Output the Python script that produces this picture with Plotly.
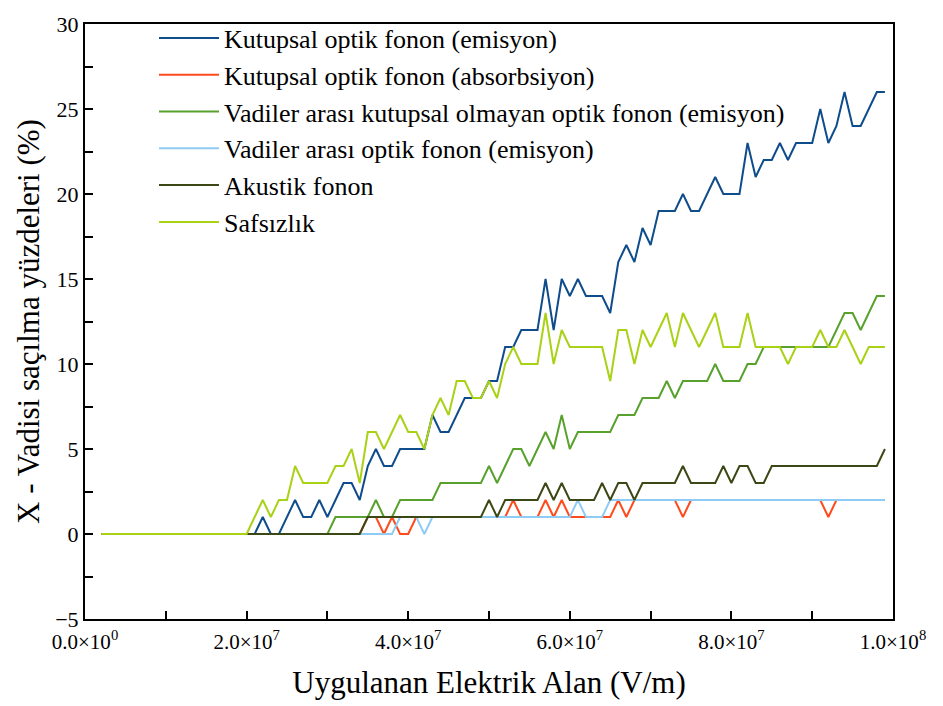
import plotly.graph_objects as go

# x grid in units of 1e6 V/m
x_mega = list(range(2, 100))
x_vals = [v * 1e6 for v in x_mega]

kutupsal_emisyon = [0]*20 + [
    1, 0, 0, 1, 2, 1, 1, 2, 1, 2,
    3, 3, 2, 4, 5, 4, 4, 5, 5, 5,
    5, 7, 6, 6, 7, 8, 8, 8, 9, 9,
    11, 11, 12, 12, 12, 15, 12, 15, 14, 15,
    14, 14, 14, 13, 16, 17, 16, 18, 17, 19,
    19, 19, 20, 19, 19, 20, 21, 20, 20, 20,
    23, 21, 22, 22, 23, 22, 23, 23, 23, 25,
    23, 24, 26, 24, 24, 25, 26, 26]

kutupsal_absorbsiyon = [0]*33 + [
    1, 1, 0, 1, 0, 0, 1, 1, 1, 1,
    1, 1, 1, 1, 1, 1, 1, 1, 2, 1,
    1, 1, 2, 1, 2, 1, 1, 1, 1, 1,
    1, 2, 1, 2, 2, 2, 2, 2, 2, 1,
    2, 2, 2, 2, 2, 2, 2, 2, 2, 2,
    2, 2, 2, 2, 2, 2, 2, 1, 2, 2,
    2, 2, 2, 2, 2]

vadiler_kutupsal_olmayan = [0]*29 + [
    1, 1, 1, 1, 1, 2, 1, 1, 2, 2,
    2, 2, 2, 3, 3, 3, 3, 3, 3, 4,
    3, 4, 5, 5, 4, 5, 6, 5, 7, 5,
    6, 6, 6, 6, 6, 7, 7, 7, 8, 8,
    8, 9, 8, 9, 9, 9, 9, 10, 9, 9,
    9, 10, 10, 11, 11, 11, 11, 11, 11, 11,
    11, 11, 12, 13, 13, 12, 13, 14, 14]

vadiler_optik = [0]*37 + [
    1, 1, 1, 0, 1, 1, 1, 1, 1, 1,
    1, 1, 1, 1, 1, 1, 1, 1, 1, 1,
    1, 1, 2, 1, 1, 1, 2, 2, 2, 2] + [2]*31

akustik = [0]*33 + [
    1, 1, 1, 1, 1, 1, 1, 1, 1, 1,
    1, 1, 1, 1, 1, 2, 1, 2, 2, 2,
    2, 2, 3, 2, 3, 2, 2, 2, 2, 3,
    2, 3, 3, 2, 3, 3, 3, 3, 3, 4,
    3, 3, 3, 3, 4, 3, 4, 4, 3, 3,
    4, 4, 4, 4, 4, 4, 4, 4, 4, 4,
    4, 4, 4, 4, 5]

safsizlik = [0]*19 + [
    1, 2, 1, 2, 2, 4, 3, 3, 3, 3,
    4, 4, 5, 3, 6, 6, 5, 6, 7, 6,
    6, 5, 7, 8, 7, 9, 9, 8, 8, 9,
    8, 10, 11, 10, 10, 10, 13, 10, 12, 11,
    11, 11, 11, 11, 9, 12, 12, 10, 12, 11,
    12, 13, 11, 13, 12, 11, 12, 13, 11, 11,
    11, 13, 11, 11, 11, 11, 10, 11, 11, 11,
    12, 11, 11, 12, 11, 10, 11, 11, 11]

series_names = [
    "Kutupsal optik fonon (emisyon)",
    "Kutupsal optik fonon (absorbsiyon)",
    "Vadiler arası kutupsal olmayan optik fonon (emisyon)",
    "Vadiler arası optik fonon (emisyon)",
    "Akustik fonon",
    "Safsızlık",
]
series_values = [kutupsal_emisyon, kutupsal_absorbsiyon, vadiler_kutupsal_olmayan,
                 vadiler_optik, akustik, safsizlik]
series_colors = ["#0e4c8c", "#ff4a1c", "#58a12d", "#8ecbf5", "#3b4815", "#a9d116"]

x_tick_vals = [0, 2e7, 4e7, 6e7, 8e7, 1e8]
x_tick_text = ["0.0×10<sup>0</sup>", "2.0×10<sup>7</sup>", "4.0×10<sup>7</sup>",
               "6.0×10<sup>7</sup>", "8.0×10<sup>7</sup>", "1.0×10<sup>8</sup>"]

FONT = "Liberation Serif, Times New Roman, serif"

fig = go.Figure()
for i, (name, vals, col) in enumerate(zip(series_names, series_values, series_colors)):
    fig.add_trace(go.Scatter(
        x=x_vals, y=vals, mode="lines", name=name,
        legendgroup="g%d" % i,
        line=dict(color=col, width=2),
    ))

fig.update_layout(
    width=943, height=706,
    margin=dict(l=85, r=50, t=12, b=87),
    paper_bgcolor="white", plot_bgcolor="white",
    font=dict(family=FONT, size=22, color="black"),
    showlegend=True,
    legend=dict(
        x=0.0854, y=1.016, xanchor="left", yanchor="top",
        bgcolor="rgba(0,0,0,0)", borderwidth=0,
        font=dict(family=FONT, size=26, color="black"),
        tracegroupgap=0, itemwidth=60,
    ),
    xaxis=dict(
        range=[0, 1e8], tickvals=x_tick_vals, ticktext=x_tick_text,
        showline=True, mirror=True, linecolor="black", linewidth=2,
        ticks="inside", ticklen=8, tickwidth=1.5, tickcolor="black",
        minor=dict(ticks="inside", ticklen=8, tickwidth=1.5, tickcolor="black", dtick=1e7, tick0=0),
        showgrid=False, zeroline=False,
        tickfont=dict(family=FONT, size=21),
        ticklabelstandoff=3,
        title=dict(text="Uygulanan Elektrik Alan (V/m)", font=dict(family=FONT, size=31), standoff=18),
    ),
    yaxis=dict(
        range=[-5, 30], tick0=0, dtick=5,
        showline=True, mirror=True, linecolor="black", linewidth=2,
        ticks="inside", ticklen=8, tickwidth=1.5, tickcolor="black",
        minor=dict(ticks="inside", ticklen=8, tickwidth=1.5, tickcolor="black", dtick=2.5, tick0=0),
        showgrid=False, zeroline=False,
        tickfont=dict(family=FONT, size=22),
        title=dict(text="X - Vadisi saçılma yüzdeleri (%)", font=dict(family=FONT, size=31), standoff=6),
    ),
)

fig.write_html("out.html")
